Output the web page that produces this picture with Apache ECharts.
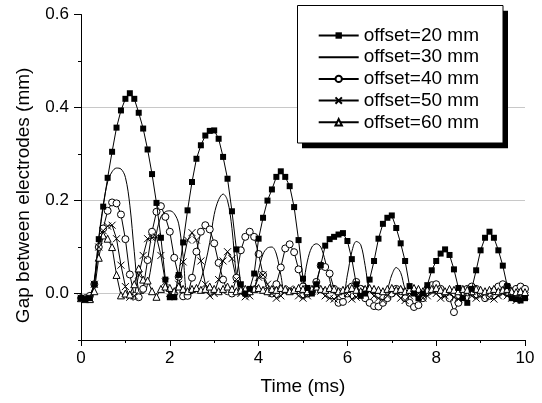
<!DOCTYPE html>
<html><head><meta charset="utf-8">
<script src="https://cdn.jsdelivr.net/npm/echarts@6/dist/echarts.min.js"></script>
<style>html,body{margin:0;padding:0;background:#fff}#c{width:542px;height:403px}</style>
</head><body><div id="c"></div>
<script>
const timeMs = [
0.0,0.1,0.2,0.3,0.4,0.5,0.6,0.7,0.8,0.9,
1.0,1.1,1.2,1.3,1.4,1.5,1.6,1.7,1.8,1.9,
2.0,2.1,2.2,2.3,2.4,2.5,2.6,2.7,2.8,2.9,
3.0,3.1,3.2,3.3,3.4,3.5,3.6,3.7,3.8,3.9,
4.0,4.1,4.2,4.3,4.4,4.5,4.6,4.7,4.8,4.9,
5.0,5.1,5.2,5.3,5.4,5.5,5.6,5.7,5.8,5.9,
6.0,6.1,6.2,6.3,6.4,6.5,6.6,6.7,6.8,6.9,
7.0,7.1,7.2,7.3,7.4,7.5,7.6,7.7,7.8,7.9,
8.0,8.1,8.2,8.3,8.4,8.5,8.6,8.7,8.8,8.9,
9.0,9.1,9.2,9.3,9.4,9.5,9.6,9.7,9.8,9.9,
10.0];

const off20 = [
-0.01,-0.012,-0.01,0.02,0.117,0.187,0.249,0.305,0.357,0.394,
0.419,0.431,0.419,0.389,0.355,0.31,0.257,0.195,0.12,0.03,
-0.008,-0.008,0.04,0.11,0.179,0.24,0.29,0.319,0.34,0.35,
0.351,0.333,0.294,0.247,0.177,0.095,0.02,0.0,0.01,0.043,
0.118,0.163,0.2,0.224,0.251,0.263,0.251,0.231,0.186,0.115,
0.032,0.012,0.0,0.02,0.061,0.103,0.117,0.122,0.127,0.13,
0.113,0.074,0.02,-0.005,0.0,0.03,0.07,0.118,0.15,0.163,
0.168,0.141,0.108,0.07,0.016,0.0,-0.01,0.0,0.018,0.05,
0.07,0.086,0.095,0.083,0.052,0.012,-0.01,-0.02,0.01,0.05,
0.093,0.12,0.133,0.12,0.093,0.06,0.016,-0.01,-0.012,-0.015,
-0.01];

const off30 = [
-0.01,-0.01,-0.01,0.03,0.12,0.19,0.24,0.262,0.27,0.268,
0.25,0.19,0.09,0.005,0.0,0.02,0.07,0.13,0.165,0.176,
0.178,0.172,0.15,0.08,0.0,0.0,0.01,0.03,0.065,0.11,
0.17,0.202,0.214,0.2,0.14,0.04,0.0,0.0,0.0,0.01,
0.05,0.085,0.098,0.1,0.085,0.04,0.0,0.0,0.0,0.0,
0.02,0.07,0.1,0.107,0.1,0.07,0.03,0.0,0.0,0.0,
0.04,0.09,0.112,0.105,0.06,0.005,0.0,0.0,0.0,0.01,
0.04,0.056,0.045,0.01,0.0,0.0,0.005,0.0,-0.005,0.0,
0.005,0.0,-0.005,0.0,0.005,0.0,0.0,-0.005,0.0,0.005,
0.0,-0.005,0.0,0.0,0.005,0.0,-0.005,0.0,0.0,-0.005,
-0.005];

const off40 = [
-0.01,-0.01,-0.005,0.02,0.1,0.14,0.178,0.196,0.194,0.17,
0.117,0.041,-0.005,-0.008,0.01,0.072,0.133,0.176,0.188,0.165,
0.133,0.077,0.036,-0.006,-0.005,0.034,0.09,0.133,0.147,0.138,
0.108,0.066,0.03,0.005,0.0,0.034,0.093,0.122,0.133,0.122,
0.085,0.04,0.005,0.0,0.02,0.056,0.097,0.106,0.089,0.052,
0.015,0.0,0.005,0.025,0.06,0.057,0.043,0.01,-0.02,-0.018,
0.0,0.015,0.025,0.01,-0.01,-0.02,-0.027,-0.028,-0.02,-0.01,
0.0,0.01,0.005,-0.01,-0.02,-0.029,-0.025,-0.01,0.01,0.018,
0.02,0.01,0.0,-0.01,-0.04,-0.02,0.0,0.01,0.015,0.01,
0.0,-0.01,-0.005,0.005,0.015,0.02,0.015,0.005,0.01,0.015,
0.01];

const off50 = [
-0.01,-0.01,-0.01,0.02,0.1,0.135,0.145,0.147,0.118,0.061,
0.015,-0.008,-0.005,0.04,0.082,0.118,0.12,0.122,0.082,0.025,
0.0,-0.005,0.02,0.068,0.115,0.131,0.115,0.07,0.02,-0.005,
0.0,0.03,0.07,0.09,0.075,0.03,0.0,-0.007,-0.005,0.01,
0.035,0.04,0.02,0.0,-0.01,-0.005,0.005,0.01,0.005,-0.005,
-0.01,-0.005,0.005,0.01,0.005,-0.005,-0.01,-0.012,-0.005,0.005,
0.0,-0.012,-0.008,0.005,0.01,0.005,-0.005,-0.01,-0.015,-0.005,
0.005,0.0,-0.01,-0.015,-0.005,0.005,0.0,-0.01,-0.005,0.005,
0.0,-0.01,-0.005,0.0,-0.008,-0.012,-0.005,0.003,-0.005,-0.01,
-0.005,0.0,-0.008,-0.012,-0.005,0.0,-0.005,-0.01,-0.015,-0.008,
-0.005];

const off60 = [
-0.01,-0.012,-0.012,0.005,0.077,0.125,0.118,0.1,0.04,-0.004,
0.0,-0.002,0.02,0.054,0.03,0.028,0.005,-0.007,0.01,0.015,
0.012,0.005,0.015,0.01,0.005,0.01,0.012,0.008,0.01,0.015,
0.01,0.005,0.01,0.015,0.01,0.005,0.008,0.01,0.005,0.01,
0.012,0.008,0.005,0.01,0.008,0.012,0.01,0.005,0.008,0.012,
0.01,0.005,0.01,0.015,0.01,0.008,0.012,0.01,0.005,0.008,
0.01,0.012,0.008,0.005,0.01,0.012,0.01,0.008,0.005,0.01,
0.012,0.008,0.01,0.005,0.008,0.012,0.01,0.005,0.008,0.01,
0.012,0.008,0.005,0.01,0.008,0.005,0.01,0.008,0.005,0.01,
0.008,0.005,0.008,0.01,0.005,0.008,0.01,0.005,0.003,0.005,
0.003];

const seriesNames = ['offset=20 mm','offset=30 mm','offset=40 mm','offset=50 mm','offset=60 mm'];
const xTitle = 'Time (ms)';
const yTitle = 'Gap between electrodes (mm)';

const FONT = '"Liberation Sans", Arial, Helvetica, sans-serif';
function pairs(vals){ return timeMs.map((t,i)=>[t, vals[i]]); }
const blackLine = {color:'#000', width:1};

const chart = echarts.init(document.getElementById('c'), null, {renderer:'canvas'});
chart.setOption({
  animation:false,
  backgroundColor:'#fff',
  textStyle:{fontFamily:FONT, color:'#000'},
  grid:[
    {left:81, right:17, top:14.7, bottom:63},
    {left:81, right:17, top:14.7, bottom:109.5}
  ],
  graphic:[
    {type:'rect', z:50, silent:true,
     shape:{x:302, y:10.7, width:206, height:137.5},
     style:{fill:'#000'}},
    {type:'rect', z:51, silent:true,
     shape:{x:297.5, y:5.5, width:205.5, height:137.5},
     style:{fill:'#fff', stroke:'#000', lineWidth:1}}
  ],
  xAxis:[
    {gridIndex:0, type:'value', min:0, max:10, interval:2,
     axisLine:{onZero:false, lineStyle:{color:'#000', width:1}},
     axisTick:{length:6, lineStyle:{color:'#000'}},
     minorTick:{show:true, splitNumber:2, length:3, lineStyle:{color:'#000'}},
     axisLabel:{fontSize:17, color:'#000', margin:10, fontFamily:FONT},
     splitLine:{show:false},
     name:xTitle, nameLocation:'middle', nameGap:37,
     nameTextStyle:{fontSize:19, color:'#000', fontFamily:FONT}},
    {gridIndex:1, type:'value', min:0, max:10, show:false}
  ],
  yAxis:[
    {gridIndex:0, type:'value', min:-0.1, max:0.6, interval:0.1,
     axisLine:{show:true, onZero:false, lineStyle:{color:'#000', width:1}},
     axisTick:{length:3, lineStyle:{color:'#000'}},
     axisLabel:{show:false},
     splitLine:{show:false},
     name:yTitle, nameLocation:'middle', nameGap:48,
     nameTextStyle:{fontSize:19, color:'#000', fontFamily:FONT, padding:[0,36,0,0]}},
    {gridIndex:1, type:'value', min:0, max:0.6, interval:0.2,
     axisLine:{show:true, onZero:false, lineStyle:{color:'#000', width:1}},
     axisTick:{length:7, lineStyle:{color:'#000'}},
     axisLabel:{fontSize:17, color:'#000', margin:12, fontFamily:FONT,
                formatter:v=>v.toFixed(1)},
     splitLine:{show:true, showMinLine:true, showMaxLine:false, lineStyle:{color:'#c8c8c8', width:1}}}
  ],
  legend:{
    left:317.7, top:26, orient:'vertical', z:60,
    itemWidth:40, itemHeight:8, itemGap:2.7,
    padding:0,
    selectedMode:false,
    textStyle:{fontSize:19, color:'#000', fontFamily:FONT},
    data:[
      seriesNames[0],
      {name:seriesNames[1], itemStyle:{opacity:0}},
      seriesNames[2], seriesNames[3], seriesNames[4]
    ]
  },
  series:[
    {name:seriesNames[1], type:'line', xAxisIndex:0, yAxisIndex:0, data:pairs(off30),
     symbol:'circle', showSymbol:false, smooth:0.35, lineStyle:blackLine, itemStyle:{color:'#000'}, z:2},
    {name:seriesNames[2], type:'line', xAxisIndex:0, yAxisIndex:0, data:pairs(off40),
     symbol:'circle', symbolSize:7, lineStyle:blackLine,
     itemStyle:{color:'#fff', borderColor:'#000', borderWidth:1}, z:3},
    {name:seriesNames[3], type:'line', xAxisIndex:0, yAxisIndex:0, data:pairs(off50),
     symbol:'path://M0,0L10,10M10,0L0,10', symbolSize:7, lineStyle:blackLine,
     itemStyle:{color:'none', borderColor:'#000', borderWidth:1}, z:3},
    {name:seriesNames[4], type:'line', xAxisIndex:0, yAxisIndex:0, data:pairs(off60),
     symbol:'triangle', symbolSize:7, lineStyle:blackLine,
     itemStyle:{color:'#fff', borderColor:'#000', borderWidth:1}, z:3},
    {name:seriesNames[0], type:'line', xAxisIndex:0, yAxisIndex:0, data:pairs(off20),
     symbol:'rect', symbolSize:6, lineStyle:blackLine, itemStyle:{color:'#000'}, z:4}
  ]
});
</script></body></html>
